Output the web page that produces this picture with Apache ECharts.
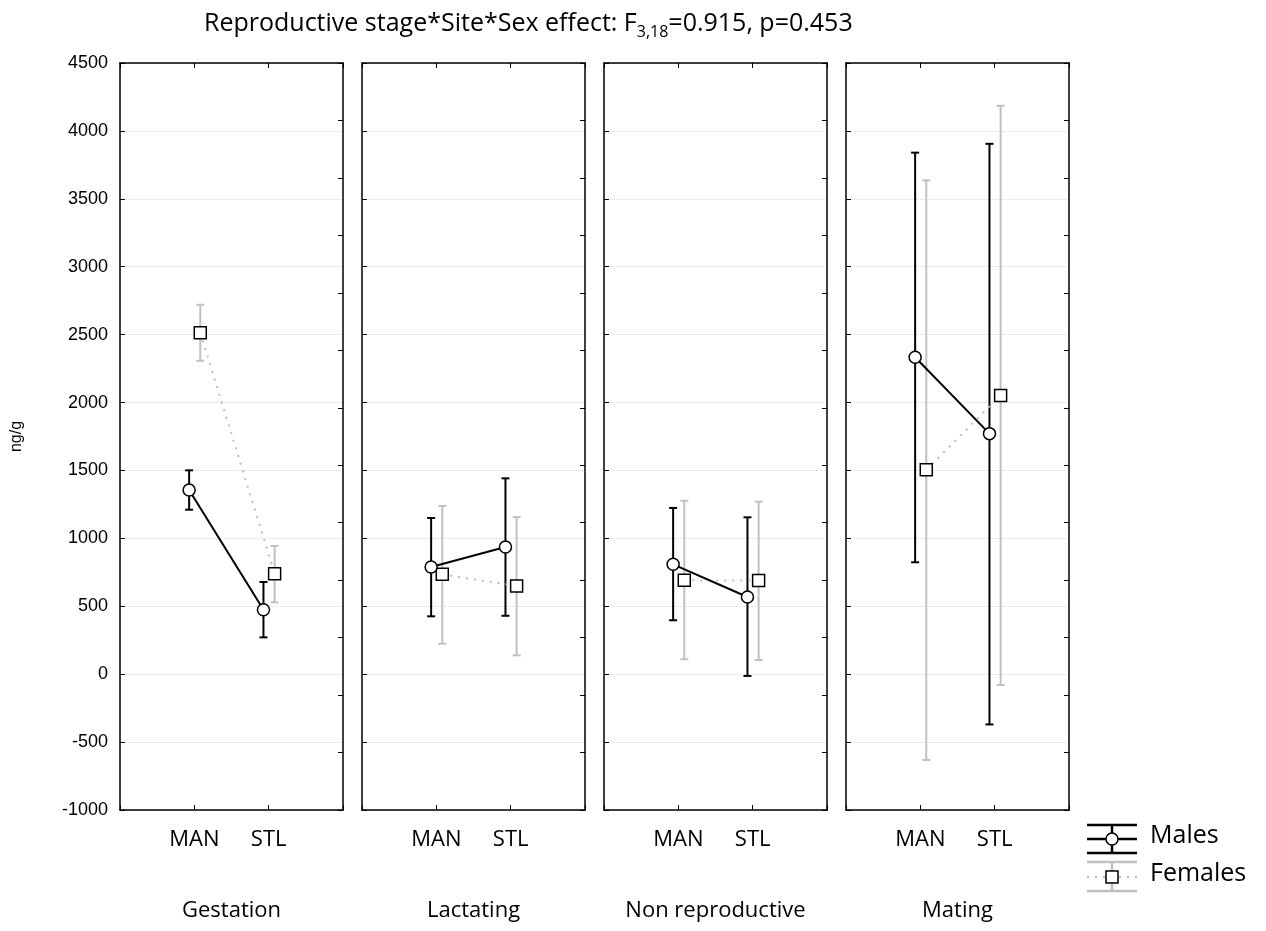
<!DOCTYPE html>
<html>
<head>
<meta charset="utf-8">
<script src="https://cdn.jsdelivr.net/npm/echarts@6/dist/echarts.min.js"></script>
<style>
  html, body { margin: 0; padding: 0; background: #fff; }
  #main { width: 1266px; height: 931px; }
</style>
</head>
<body>
<div id="main"></div>
<script>
// data
var stages = ['Gestation', 'Lactating', 'Non reproductive', 'Mating'];
var sites = ['MAN', 'STL'];
var malesMean = [[1356, 475], [789, 936], [809, 568], [2334, 1771]];
var malesLow = [[1211, 271], [426, 430], [397, -13], [824, -370]];
var malesHigh = [[1501, 679], [1150, 1442], [1224, 1155], [3840, 3905]];
var femalesMean = [[2514, 740], [735, 649], [691, 689], [1505, 2052]];
var femalesLow = [[2308, 529], [224, 139], [110, 104], [-632, -80]];
var femalesHigh = [[2720, 944], [1238, 1157], [1277, 1270], [3636, 4185]];
var yTicks = { min: -1000, max: 4500, step: 500 };

var myChart = echarts.init(document.getElementById('main'));

var panelLeft = [120, 362, 604, 846];
var maleShift = -0.07, femaleShift = 0.08;
var black = '#000', grey = '#c0c0c0';
var textFont = 'Open Sans';

function errRenderer(color) {
  return function (params, api) {
    var x = api.value(0);
    var lo = api.coord([x, api.value(1)]);
    var hi = api.coord([x, api.value(2)]);
    var w = 4;
    var st = { stroke: color, lineWidth: 2 };
    return {
      type: 'group',
      children: [
        { type: 'line', shape: { x1: lo[0], y1: lo[1], x2: hi[0], y2: hi[1] }, style: st },
        { type: 'line', shape: { x1: lo[0] - w, y1: lo[1], x2: lo[0] + w, y2: lo[1] }, style: st },
        { type: 'line', shape: { x1: hi[0] - w, y1: hi[1], x2: hi[0] + w, y2: hi[1] }, style: st }
      ]
    };
  };
}

var borderLine = { show: true, onZero: false, lineStyle: { color: black, width: 1.5 } };
var innerTick = { show: true, inside: true, length: 5, lineStyle: { color: black } };

var grid = [], xAxis = [], yAxis = [], series = [];
stages.forEach(function (stage, i) {
  grid.push({ left: panelLeft[i], top: 63, width: 223, height: 747 });
  // bottom axis: site labels and stage name
  xAxis.push({
    type: 'value', gridIndex: i, min: 0, max: 3, interval: 1,
    axisLine: borderLine, axisTick: innerTick,
    axisLabel: {
      margin: 19, fontSize: 22, color: '#000', fontFamily: textFont,
      formatter: function (v) { return (v === 1 || v === 2) ? sites[v - 1] : ''; }
    },
    splitLine: { show: false },
    name: stage, nameLocation: 'middle', nameGap: 90,
    nameTextStyle: { fontSize: 22, color: '#000', fontFamily: textFont }
  });
  // top border
  xAxis.push({
    type: 'value', gridIndex: i, position: 'top', min: 0, max: 3, interval: 1,
    axisLine: borderLine, axisTick: innerTick,
    axisLabel: { show: false }, splitLine: { show: false }
  });
  yAxis.push({
    type: 'value', gridIndex: i, min: yTicks.min, max: yTicks.max, interval: yTicks.step,
    axisLine: borderLine, axisTick: innerTick,
    axisLabel: {
      show: i === 0, margin: 12, fontSize: 18, color: '#000', fontFamily: 'Liberation Sans',
      formatter: function (v) { return String(v); }
    },
    splitLine: { show: true, lineStyle: { color: '#dcdcdc', type: 'dotted', width: 1 } },
    name: i === 0 ? 'ng/g' : '', nameLocation: 'middle', nameRotate: 90, nameGap: 95,
    nameTextStyle: { fontSize: 16, color: '#000', fontFamily: 'Liberation Sans' }
  });
  // right border, its own tick spacing
  yAxis.push({
    type: 'value', gridIndex: i, position: 'right', min: 0, max: 13, interval: 1,
    axisLine: borderLine, axisTick: innerTick,
    axisLabel: { show: false }, splitLine: { show: false }
  });

  var xi = i * 2, yi = i * 2;
  series.push({
    type: 'custom', name: 'Females', xAxisIndex: xi, yAxisIndex: yi, z: 2,
    renderItem: errRenderer(grey),
    data: sites.map(function (s, k) { return [k + 1 + femaleShift, femalesLow[i][k], femalesHigh[i][k]]; })
  });
  series.push({
    type: 'custom', name: 'Males', xAxisIndex: xi, yAxisIndex: yi, z: 3,
    renderItem: errRenderer(black),
    data: sites.map(function (s, k) { return [k + 1 + maleShift, malesLow[i][k], malesHigh[i][k]]; })
  });
  series.push({
    type: 'line', name: 'Females', xAxisIndex: xi, yAxisIndex: yi, z: 4,
    symbol: 'rect', symbolSize: 12, showSymbol: true,
    lineStyle: { color: '#bdbdbd', width: 2, type: [2, 6] },
    itemStyle: { color: '#fff', borderColor: black, borderWidth: 1.5 },
    data: sites.map(function (s, k) { return [k + 1 + femaleShift, femalesMean[i][k]]; })
  });
  series.push({
    type: 'line', name: 'Males', xAxisIndex: xi, yAxisIndex: yi, z: 5,
    symbol: 'circle', symbolSize: 12, showSymbol: true,
    lineStyle: { color: black, width: 2 },
    itemStyle: { color: '#fff', borderColor: black, borderWidth: 1.5 },
    data: sites.map(function (s, k) { return [k + 1 + maleShift, malesMean[i][k]]; })
  });
});

var option = {
  animation: false,
  backgroundColor: '#fff',
  title: {
    left: 199, top: 6,
    text: '{n|Reproductive stage*Site*Sex effect: F}{s|3,18}{n|=0.915, p=0.453}',
    textStyle: {
      rich: {
        n: { fontSize: 25, fontWeight: 'normal', fontFamily: textFont, color: '#000', lineHeight: 34, verticalAlign: 'top' },
        s: { fontSize: 16, fontWeight: 'normal', fontFamily: textFont, color: '#000', lineHeight: 34, verticalAlign: 'top', padding: [13, 0, 0, 0] }
      }
    }
  },
  grid: grid,
  xAxis: xAxis,
  yAxis: yAxis,
  series: series,
  graphic: [
    // legend
    { type: 'line', shape: { x1: 1087, y1: 825, x2: 1137, y2: 825 }, style: { stroke: black, lineWidth: 2.5 } },
    { type: 'line', shape: { x1: 1087, y1: 839, x2: 1137, y2: 839 }, style: { stroke: black, lineWidth: 2.5 } },
    { type: 'line', shape: { x1: 1087, y1: 853, x2: 1137, y2: 853 }, style: { stroke: black, lineWidth: 2.5 } },
    { type: 'line', shape: { x1: 1112, y1: 825, x2: 1112, y2: 853 }, style: { stroke: black, lineWidth: 2.5 } },
    { type: 'circle', shape: { cx: 1112, cy: 839, r: 6 }, style: { fill: '#fff', stroke: black, lineWidth: 1.5 } },
    { type: 'text', left: 1150, top: 823, style: { text: 'Males', fontSize: 25, fontFamily: textFont, fill: '#000' } },
    { type: 'line', shape: { x1: 1087, y1: 862, x2: 1137, y2: 862 }, style: { stroke: grey, lineWidth: 2.5 } },
    { type: 'line', shape: { x1: 1087, y1: 891, x2: 1137, y2: 891 }, style: { stroke: grey, lineWidth: 2.5 } },
    { type: 'line', shape: { x1: 1112, y1: 862, x2: 1112, y2: 891 }, style: { stroke: grey, lineWidth: 2.5 } },
    { type: 'line', shape: { x1: 1087, y1: 877, x2: 1137, y2: 877 }, style: { stroke: '#bdbdbd', lineWidth: 2, lineDash: [2, 6] } },
    { type: 'rect', shape: { x: 1106, y: 871, width: 12, height: 12 }, style: { fill: '#fff', stroke: black, lineWidth: 1.5 } },
    { type: 'text', left: 1150, top: 861, style: { text: 'Females', fontSize: 25, fontFamily: textFont, fill: '#000' } }
  ]
};

myChart.setOption(option);
</script>
</body>
</html>
